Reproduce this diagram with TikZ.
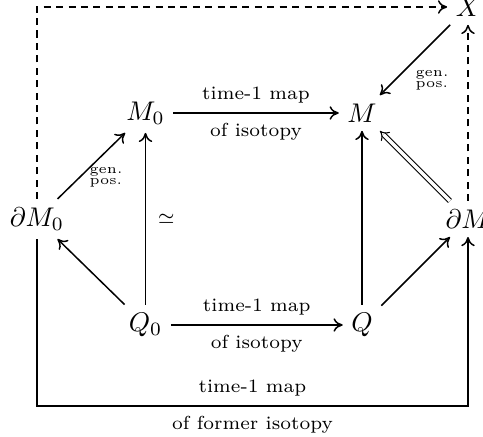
\documentclass[tikz,border=0pt]{standalone}
\usetikzlibrary{arrows.meta}
\begin{document}
\begin{tikzpicture}[x=0.3704pt,y=-0.3704pt,
  obj/.style={inner sep=3pt},
  arr/.style={line width=0.55pt,-{Computer Modern Rightarrow[length=3.4pt,width=5pt]}},
  dasharr/.style={arr,dash pattern=on 2.6pt off 2pt},
  dbl/.style={line width=0.4pt,double,double distance=1.2pt,-{Implies[length=3.4pt]}},
  lab/.style={font=\scriptsize,inner sep=3.5pt},
  gp/.style={font=\fontsize{5}{4.2}\selectfont,align=left,inner sep=0pt}]
\useasboundingbox (0,0) rectangle (483,437);
\node[obj] (X) at (468,7) {$X$};
\node[obj] (M0) at (145.5,113) {$M_0$};
\node[obj] (M) at (362,113) {$M$};
\node[obj] (dM0) at (37,219) {$\partial M_0$};
\node[obj] (dM) at (468,219) {$\partial M$};
\node[obj] (Q0) at (145.5,325) {$Q_0$};
\node[obj] (Q) at (362,325) {$Q$};
\coordinate (tl) at (37,7);
\coordinate (bl) at (37,406);
\coordinate (br) at (468,406);

\draw[dasharr] (dM0) -- (tl) -- (X);
\draw[dasharr] (dM) -- (X);
\draw[arr] (X) -- (M);
\node[gp,anchor=north west] (gp1) at (415,70) {gen.\\pos.};
\draw[arr] (M0) -- node[lab,above]{time-1 map} node[lab,below]{of isotopy} (M);
\draw[arr] (dM0) -- (M0);
\node[gp,anchor=north west] (gp2) at (89,167) {gen.\\pos.};
\draw[arr] (Q0) -- node[right=1pt]{$\scriptstyle\simeq$} (M0);
\draw[arr] (Q0) -- (dM0);
\draw[arr] (Q) -- (M);
\draw[dbl] (dM) -- (M);
\draw[arr] (Q) -- (dM);
\draw[arr] (Q0) -- node[lab,above]{time-1 map} node[lab,below]{of isotopy} (Q);
\draw[arr] (dM0) -- (bl) -- node[lab,above]{time-1 map} node[lab,below]{of former isotopy} (br) -- (dM);
\end{tikzpicture}
\end{document}
